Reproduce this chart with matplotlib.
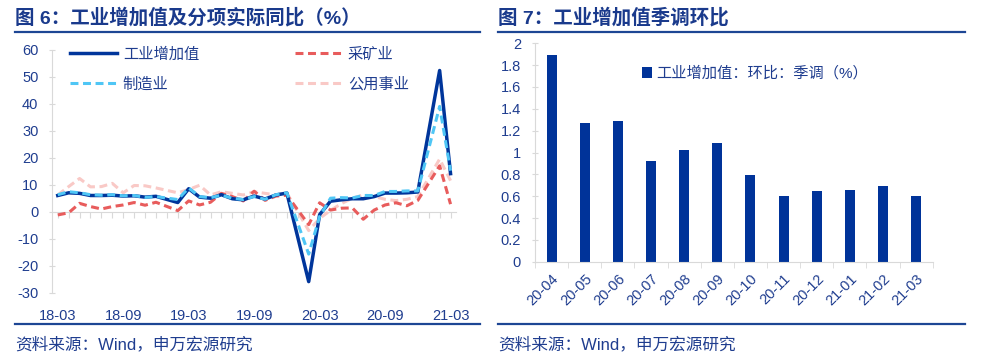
import numpy as np
import matplotlib
matplotlib.use('Agg')
import matplotlib.pyplot as plt
from matplotlib.lines import Line2D

plt.rcParams['font.family'] = ['Liberation Sans', 'Noto Sans CJK SC']
plt.rcParams['axes.unicode_minus'] = False

# ---- data: figure 6, monthly YoY (%), January not published ----
months = ['18-03', '18-04', '18-05', '18-06', '18-07', '18-08', '18-09', '18-10', '18-11', '18-12',
          '19-02', '19-03', '19-04', '19-05', '19-06', '19-07', '19-08', '19-09', '19-10', '19-11', '19-12',
          '20-02', '20-03', '20-04', '20-05', '20-06', '20-07', '20-08', '20-09', '20-10', '20-11', '20-12',
          '21-02', '21-03']
iva = [6.0, 7.0, 6.8, 6.0, 6.0, 6.1, 5.8, 5.9, 5.4, 5.7,
       3.4, 8.5, 5.4, 5.0, 6.3, 4.8, 4.4, 5.8, 4.7, 6.2, 6.9,
       -25.9, -1.1, 3.9, 4.4, 4.8, 4.8, 5.6, 6.9, 6.9, 7.0, 7.3,
       52.3, 14.1]
mining = [-1.2, -0.4, 3.1, 1.9, 1.0, 1.9, 2.5, 3.4, 2.4, 3.5,
          0.4, 4.0, 2.5, 3.5, 6.8, 5.6, 4.0, 7.6, 4.2, 5.8, 6.1,
          -4.8, 3.3, 0.6, 1.3, 1.4, -2.8, 0.6, 2.5, 3.3, 2.2, 4.2,
          17.0, 2.8]
mfg = [6.3, 7.4, 7.0, 6.3, 6.1, 6.3, 5.9, 6.0, 5.3, 5.6,
       4.5, 8.8, 5.6, 5.2, 6.1, 5.0, 4.5, 5.6, 4.6, 6.3, 7.0,
       -15.7, -1.8, 5.0, 5.2, 5.1, 6.0, 6.0, 7.5, 7.5, 7.7, 7.7,
       39.0, 15.2]
utilities = [6.2, 9.3, 12.3, 9.2, 9.3, 10.5, 7.0, 9.7, 9.6, 8.8,
             7.0, 8.2, 9.8, 6.2, 7.4, 6.8, 6.2, 7.4, 6.8, 6.2, 6.9,
             -7.0, -2.5, 0.5, 3.0, 5.0, 6.2, 5.6, 4.6, 4.1, 4.6, 5.6,
             19.5, 11.5]
left_ticklabels = ['18-03', '18-09', '19-03', '19-09', '20-03', '20-09', '21-03']

# ---- data: figure 7, seasonally adjusted MoM (%) ----
mom_labels = ['20-04', '20-05', '20-06', '20-07', '20-08', '20-09',
              '20-10', '20-11', '20-12', '21-01', '21-02', '21-03']
mom_values = [1.89, 1.27, 1.29, 0.92, 1.02, 1.09, 0.79, 0.60, 0.65, 0.66, 0.69, 0.60]

NAVY = '#00359b'
TXT = '#1f3d8f'
RULE = '#1d4694'
GRAY = '#d9d9d9'


def month_index(s):
    yy, mm = s.split('-')
    return (int(yy) - 18) * 12 + int(mm) - 3


x = np.array([month_index(m) for m in months])

fig = plt.figure(figsize=(10, 3.61), dpi=100)

# ---------------- left chart ----------------
ax = fig.add_axes([0.0523, 0.1892, 0.4037, 0.6731])
dash = (0, (2.6, 1.5))
l_util, = ax.plot(x, utilities, color='#f9c9c6', lw=2.2, ls=dash, zorder=1)
l_min, = ax.plot(x, mining, color='#e85c5c', lw=2.2, ls=dash, zorder=2)
l_iva, = ax.plot(x, iva, color=NAVY, lw=2.5, zorder=3)
l_mfg, = ax.plot(x, mfg, color='#4fc6f5', lw=2.2, ls=dash, zorder=4)

ax.set_xlim(-0.5, 36.5)
ax.set_ylim(-30, 60)
ax.set_yticks(np.arange(-30, 61, 10))
ax.set_xticks([month_index(t) for t in left_ticklabels])
ax.set_xticklabels(left_ticklabels)
ax.tick_params(axis='x', length=0, pad=12, labelsize=10.5, labelcolor=TXT)
ax.tick_params(axis='y', direction='inout', length=4, color=GRAY, pad=8,
               labelsize=10.5, labelcolor=TXT)
for s in ['top', 'right', 'bottom']:
    ax.spines[s].set_visible(False)
ax.spines['left'].set_color(GRAY)

# axis line through zero with monthly ticks
zero_ax = ax.secondary_xaxis(30 / 90)
zero_ax.set_xticks(np.arange(0, 37))
zero_ax.tick_params(axis='x', direction='out', length=4, color=GRAY,
                    labelbottom=False, labeltop=False)
zero_ax.spines['bottom'].set_color(GRAY)
zero_ax.spines['top'].set_color(GRAY)

ax.legend([l_iva, l_mfg, l_min, l_util], ['工业增加值', '制造业', '采矿业', '公用事业'],
          ncol=2, loc='upper left', bbox_to_anchor=(0.044, 1.01), frameon=False,
          fontsize=11, handlelength=3.1, handletextpad=0.35, columnspacing=6.3,
          labelspacing=1.0, borderpad=0, borderaxespad=0, labelcolor=TXT)

# ---------------- right chart ----------------
bx = fig.add_axes([0.535, 0.2751, 0.3977, 0.6049])
pos = np.arange(len(mom_labels))
bars = bx.bar(pos, mom_values, width=0.3, color='#003399')
bx.set_xlim(-0.5, len(mom_labels) - 0.5)
bx.set_ylim(0, 2)
bx.set_yticks(np.arange(0, 2.01, 0.2))
bx.set_yticklabels(['%g' % round(v, 1) for v in np.arange(0, 2.01, 0.2)])
bx.set_xticks(pos)
bx.set_xticklabels(mom_labels, rotation=45, ha='right', rotation_mode='anchor')
bx.set_xticks(np.arange(-0.5, len(mom_labels)), minor=True)
bx.tick_params(axis='x', which='major', length=0, pad=7, labelsize=10.5, labelcolor=TXT)
bx.tick_params(axis='x', which='minor', direction='out', length=4, color=GRAY)
bx.tick_params(axis='y', direction='inout', length=4, color=GRAY, pad=8,
               labelsize=10.5, labelcolor=TXT)
for s in ['top', 'right']:
    bx.spines[s].set_visible(False)
bx.spines['left'].set_color(GRAY)
bx.spines['bottom'].set_color(GRAY)
bx.legend([bars], ['工业增加值：环比：季调（%）'], loc='upper left',
          bbox_to_anchor=(0.268, 0.895), frameon=False, fontsize=11,
          handlelength=0.65, handleheight=0.65, handletextpad=0.3,
          borderpad=0, borderaxespad=0, labelcolor=TXT)

# ---------------- titles, rules, sources ----------------
fig.text(0.015, 1 - 18 / 361, '图 6：工业增加值及分项实际同比（%）', fontsize=14,
         fontweight='bold', color='#1a3a8c', va='center', ha='left')
fig.text(0.498, 1 - 18 / 361, '图 7：工业增加值季调环比', fontsize=14,
         fontweight='bold', color='#1a3a8c', va='center', ha='left')
for x0, x1 in [(0.015, 0.480), (0.498, 0.965)]:
    for yy in [31.7, 324.2]:
        fig.add_artist(Line2D([x0, x1], [1 - yy / 361] * 2, color=RULE, lw=1.6,
                              transform=fig.transFigure))
    fig.text(x0, 1 - 344 / 361, '资料来源：Wind，申万宏源研究', fontsize=12,
             color=TXT, va='center', ha='left')

fig.savefig('out.png', dpi=100)
